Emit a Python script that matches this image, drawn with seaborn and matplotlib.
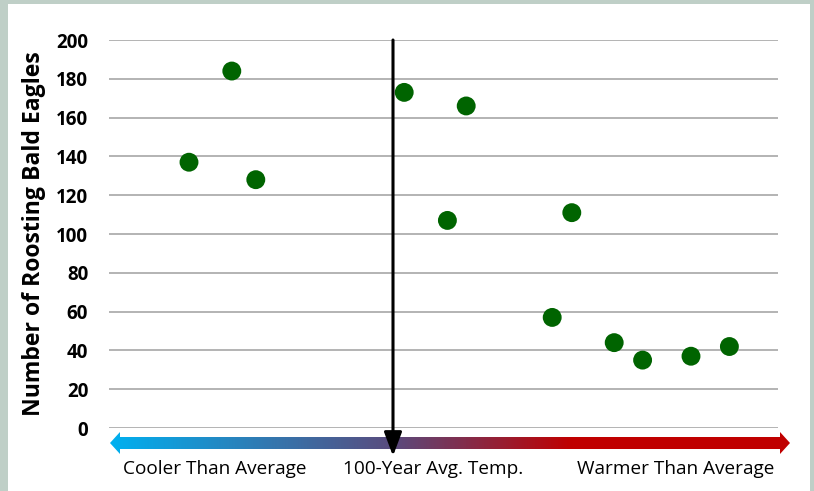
import numpy as np
import pandas as pd
import seaborn as sns
import matplotlib.pyplot as plt
from matplotlib.patches import Rectangle, Polygon
from matplotlib.colors import LinearSegmentedColormap

# ---- data ----
temp_anomaly = [-5.10, -4.03, -3.43, 0.28, 1.36, 1.83, 3.98, 4.47, 5.53, 6.24, 7.45, 8.41]
eagles = [137, 184, 128, 173, 107, 166, 57, 111, 44, 35, 37, 42]
y_ticks = [0, 20, 40, 60, 80, 100, 120, 140, 160, 180, 200]
axis_labels = ["Cooler Than Average", "100-Year Avg. Temp.", "Warmer Than Average"]
y_title = "Number of Roosting Bald Eagles"

df = pd.DataFrame({"anomaly": temp_anomaly, "eagles": eagles})

sns.set_theme(style="white")
plt.rcParams["font.family"] = ["Open Sans", "DejaVu Sans"]

W, H = 814, 491
fig = plt.figure(figsize=(W / 100, H / 100), dpi=100)
fig.patch.set_facecolor("#bfcfc7")
fig.patches.append(Rectangle((8 / W, 0), (810 - 8) / W, (491 - 4) / H,
                             transform=fig.transFigure, facecolor="white",
                             edgecolor="none", zorder=-10))

# main axes: x pixels 109..778, y pixels 40..428
ax = fig.add_axes([109 / W, 1 - 428 / H, (778 - 109) / W, (428 - 40) / H])
ax.set_facecolor("none")
scale = 40.0
ax.set_xlim((109 - 393) / scale, (778 - 393) / scale)
ax.set_ylim(0, 200)

sns.scatterplot(data=df, x="anomaly", y="eagles", ax=ax, s=185,
                color="#006400", edgecolor="none", zorder=5, clip_on=False)

ax.set_yticks(y_ticks)
ax.set_yticklabels([str(v) for v in y_ticks], fontsize=13.5, fontweight="bold",
                   color="black")
ax.set_xticks([])
ax.set_xlabel("")
ax.set_ylabel(y_title, fontsize=16.6, fontweight="bold", color="black", labelpad=7)
ax.tick_params(axis="y", length=0, pad=15)
ax.yaxis.grid(True, color="#b3b3b3", linewidth=1.4)
ax.set_axisbelow(True)
for s in ax.spines.values():
    s.set_visible(False)

# vertical arrow at 100-year average (x=0)
y_tip = (428 - 456) / 1.94
ax.annotate("", xy=(0, y_tip), xytext=(0, 200), annotation_clip=False,
            arrowprops=dict(arrowstyle="-|>,head_length=1.2,head_width=0.45",
                            color="black", lw=2.2, shrinkA=0, shrinkB=0),
            zorder=6)

# overlay axes in pixel coordinates for the gradient arrow + labels
ov = fig.add_axes([0, 0, 1, 1], zorder=-1)
ov.set_xlim(0, W)
ov.set_ylim(H, 0)
ov.axis("off")
ov.patch.set_alpha(0)

yc = 443
shaft = 6
head = 11
x0, x1 = 110, 790
hl = 10
arrow_pts = [(x0, yc), (x0 + hl, yc - head), (x0 + hl, yc - shaft),
             (x1 - hl, yc - shaft), (x1 - hl, yc - head), (x1, yc),
             (x1 - hl, yc + head), (x1 - hl, yc + shaft), (x0 + hl, yc + shaft),
             (x0 + hl, yc + head)]
poly = Polygon(arrow_pts, closed=True, facecolor="none", edgecolor="none")
ov.add_patch(poly)
cmap = LinearSegmentedColormap.from_list(
    "temp", [(0.0, "#00b0f0"), (0.42, "#5b4a7c"), (0.68, "#c00000"), (1.0, "#c00000")])
grad = np.linspace(0, 1, 512).reshape(1, -1)
im = ov.imshow(grad, cmap=cmap, aspect="auto",
               extent=(x0, x1, yc + head, yc - head), zorder=1)
im.set_clip_path(poly)

label_x = [215, 433, 676]
for lx, txt in zip(label_x, axis_labels):
    ov.text(lx, 469, txt, ha="center", va="center", fontsize=13.7,
            color="black", family=["Open Sans", "DejaVu Sans"])

fig.savefig("out.png", dpi=100)
